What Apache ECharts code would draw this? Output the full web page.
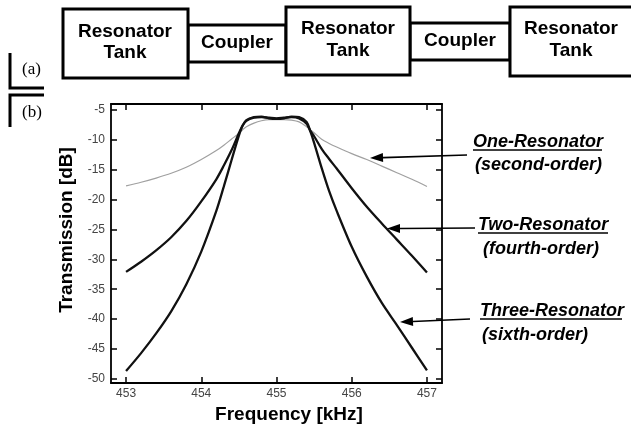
<!DOCTYPE html>
<html>
<head>
<meta charset="utf-8">
<script src="https://cdn.jsdelivr.net/npm/echarts@6/dist/echarts.min.js"></script>
<style>
  html, body { margin: 0; padding: 0; background: #fff; }
  #chart { width: 631px; height: 431px; }
</style>
</head>
<body>
<div id="chart"></div>
<script>
// frequency points (kHz)
var freq = [453.0, 453.2, 453.4, 453.6, 453.8, 454.0, 454.2, 454.3, 454.4, 454.5, 454.55, 454.6, 454.7, 454.8, 454.9,
  455.0, 455.1, 455.2, 455.3, 455.4, 455.45, 455.5, 455.6, 455.7, 455.8, 456.0, 456.2, 456.4, 456.6, 456.8, 457.0];

// transmission (dB)
var oneRes = [-17.7, -17.1, -16.4, -15.6, -14.6, -13.3, -11.8, -10.9, -9.9, -8.9, -8.3, -7.8, -7.2, -6.8, -6.6,
  -6.6, -6.6, -6.7, -7.0, -7.8, -8.3, -8.8, -9.9, -10.6, -11.2, -12.3, -13.3, -14.4, -15.5, -16.6, -17.8];
var twoRes = [-32.1, -30.4, -28.5, -26.3, -23.6, -20.3, -16.6, -14.3, -11.8, -8.9, -7.6, -6.8, -6.3, -6.2, -6.3,
  -6.4, -6.3, -6.2, -6.4, -7.3, -8.5, -9.4, -11.5, -13.2, -14.8, -18.1, -21.2, -24.0, -26.7, -29.4, -32.2];
var threeRes = [-48.7, -45.7, -42.4, -38.7, -34.2, -28.7, -21.9, -17.8, -13.5, -9.3, -7.6, -6.7, -6.2, -6.1, -6.4,
  -6.5, -6.4, -6.1, -6.2, -7.0, -8.6, -10.5, -14.7, -18.6, -21.9, -27.9, -32.9, -37.3, -41.0, -44.8, -48.6];

// tick labels
var xTicks = [453, 454, 455, 456, 457];
var yTicks = [-50, -45, -40, -35, -30, -25, -20, -15, -10, -5];

function pairs(ys) {
  return freq.map(function (f, i) { return [f, ys[i]]; });
}

var sans = 'Liberation Sans, Arial, Helvetica, sans-serif';
var serif = 'Liberation Serif, Times New Roman, serif';

function box(x, y, w, h) {
  return { type: 'rect', shape: { x: x, y: y, width: w, height: h },
    style: { fill: '#fff', stroke: '#000', lineWidth: 3 } };
}
function label(x, y, txt, size, font, extra) {
  var st = { text: txt, x: x, y: y, fill: '#000', fontSize: size, fontFamily: font || sans,
    fontWeight: 'bold', align: 'center', verticalAlign: 'middle' };
  if (extra) for (var k in extra) st[k] = extra[k];
  return { type: 'text', style: st, z: 100 };
}
function line(pts, w) {
  return { type: 'polyline', shape: { points: pts }, style: { stroke: '#000', lineWidth: w, fill: null }, z: 100 };
}
function arrow(x1, y1, x2, y2) {
  var a = Math.atan2(y2 - y1, x2 - x1), len = 13, hw = 4.5;
  var bx = x2 - len * Math.cos(a), by = y2 - len * Math.sin(a);
  return [
    line([[x1, y1], [bx, by]], 1.6),
    { type: 'polygon', z: 100, style: { fill: '#000' },
      shape: { points: [[x2, y2], [bx - hw * Math.sin(a), by + hw * Math.cos(a)], [bx + hw * Math.sin(a), by - hw * Math.cos(a)]] } }
  ];
}

var note = { fontStyle: 'italic', fontSize: 18, align: 'left' };

var graphics = [
  // (a) block diagram
  box(188, 25, 98, 37), box(410, 23, 100, 37),
  box(63, 9, 125, 69), box(286, 7, 124, 68), box(510, 7, 130, 69),
  label(125, 32, 'Resonator', 19), label(125, 53, 'Tank', 19),
  label(237, 43, 'Coupler', 19),
  label(348, 29, 'Resonator', 19), label(348, 51, 'Tank', 19),
  label(460, 41, 'Coupler', 19),
  label(571, 29, 'Resonator', 19), label(571, 51, 'Tank', 19),
  // panel labels
  label(22, 70, '(a)', 17, serif, { fontWeight: 'normal', align: 'left' }),
  label(22, 113, '(b)', 17, serif, { fontWeight: 'normal', align: 'left' }),
  line([[10, 53], [10, 88], [44, 88]], 3),
  line([[44, 95], [10, 95], [10, 127]], 3),
  // annotations
  label(473, 142, 'One-Resonator', 18, sans, note),
  label(475, 165, '(second-order)', 18, sans, note),
  line([[473, 150], [602, 150]], 1.3),
  label(478, 225, 'Two-Resonator', 18, sans, note),
  label(483, 249, '(fourth-order)', 18, sans, note),
  line([[478, 233], [608, 233]], 1.3),
  label(480, 311, 'Three-Resonator', 18, sans, note),
  label(482, 335, '(sixth-order)', 18, sans, note),
  line([[480, 319], [622, 319]], 1.3)
].concat(arrow(467, 155, 370, 158), arrow(475, 228, 387, 228.5), arrow(470, 319, 400, 322));

function ticks(vals) {
  return { show: true, inside: true, length: 6, customValues: vals, lineStyle: { color: '#000', width: 1.5 } };
}
var frame = { show: true, onZero: false, lineStyle: { color: '#000', width: 1.8 } };

var option = {
  animation: false,
  backgroundColor: '#fff',
  grid: { left: 111, top: 104, right: 189, bottom: 48, containLabel: false, outerBoundsMode: 'none' },
  xAxis: [
    {
      type: 'value', min: 452.8, max: 457.2, position: 'bottom',
      name: 'Frequency [kHz]', nameLocation: 'middle', nameGap: 21,
      nameTextStyle: { fontFamily: sans, fontWeight: 'bold', fontSize: 19, color: '#000', padding: [0, 0, 0, 25] },
      axisLine: frame, axisTick: ticks(xTicks), splitLine: { show: false },
      axisLabel: { customValues: xTicks, margin: 5, color: '#444', fontFamily: sans, fontSize: 12 }
    },
    {
      type: 'value', min: 452.8, max: 457.2, position: 'top',
      axisLine: frame, axisTick: ticks(xTicks), splitLine: { show: false }, axisLabel: { show: false }
    }
  ],
  yAxis: [
    {
      type: 'value', min: -50.7, max: -4, position: 'left',
      name: 'Transmission [dB]', nameLocation: 'middle', nameGap: 33, nameRotate: 90,
      nameTextStyle: { fontFamily: sans, fontWeight: 'bold', fontSize: 19, color: '#000', padding: [0, 0, 0, 27] },
      axisLine: frame, axisTick: ticks(yTicks), splitLine: { show: false },
      axisLabel: { customValues: yTicks, margin: 6, color: '#444', fontFamily: sans, fontSize: 12 }
    },
    {
      type: 'value', min: -50.7, max: -4, position: 'right',
      axisLine: frame, axisTick: ticks(yTicks), splitLine: { show: false }, axisLabel: { show: false }
    }
  ],
  series: [
    { name: 'One-Resonator', type: 'line', data: pairs(oneRes), smooth: 0.3, showSymbol: false,
      lineStyle: { color: '#a0a0a0', width: 1.2 }, z: 2 },
    { name: 'Two-Resonator', type: 'line', data: pairs(twoRes), smooth: 0.3, showSymbol: false,
      lineStyle: { color: '#111', width: 2.3 }, z: 3 },
    { name: 'Three-Resonator', type: 'line', data: pairs(threeRes), smooth: 0.3, showSymbol: false,
      lineStyle: { color: '#111', width: 2.3 }, z: 4 }
  ],
  graphic: graphics
};

var chart = echarts.init(document.getElementById('chart'));
chart.setOption(option);
</script>
</body>
</html>
